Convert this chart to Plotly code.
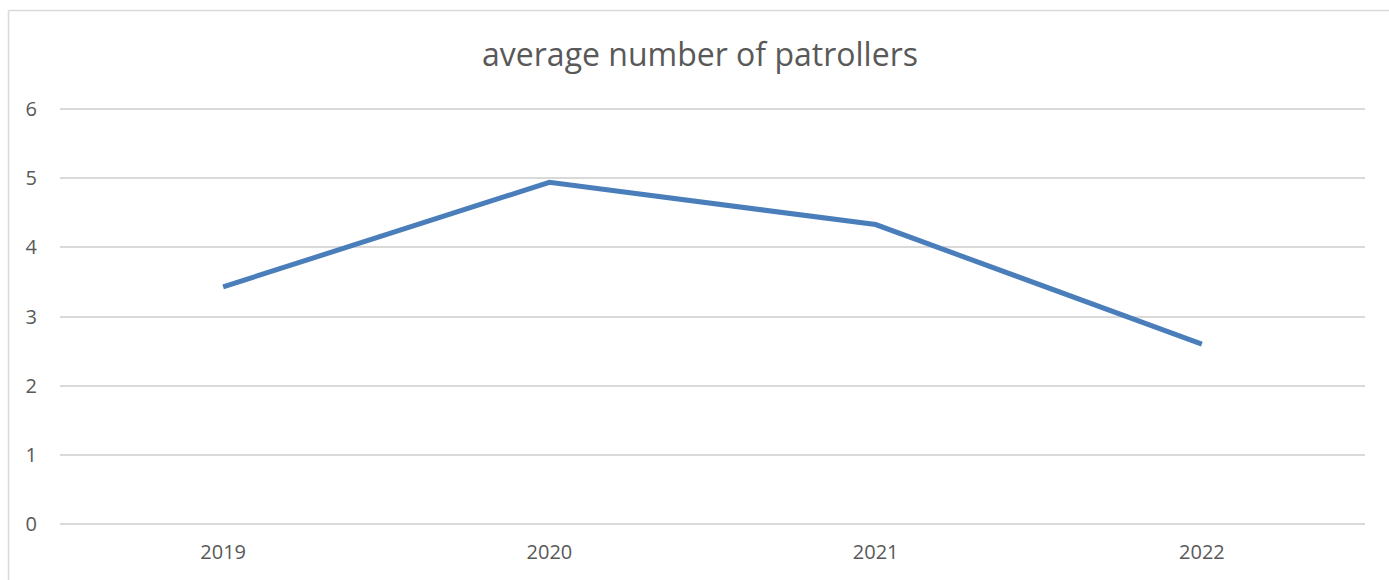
import plotly.graph_objects as go

years = ["2019", "2020", "2021", "2022"]
avg_patrollers = [3.43, 4.94, 4.33, 2.60]
y_ticks = [0, 1, 2, 3, 4, 5, 6]
y_max = 6.03

W, H = 1389, 580
L, R, B = 60, 24, 56
px_per_unit = 415 / 6
T = round(H - B - y_max * px_per_unit)
pw, ph = W - L - R, H - T - B

fig = go.Figure()
fig.add_trace(go.Scatter(
    x=years, y=avg_patrollers, mode="lines",
    line=dict(color="#4a7ebb", width=5),
    showlegend=False,
))

def px_to_paper_x(px):
    return (px - L) / pw

def px_to_paper_y(py):
    return (H - B - py) / ph

fig.update_layout(
    width=W, height=H,
    margin=dict(l=L, r=R, t=T, b=B),
    paper_bgcolor="white", plot_bgcolor="white",
    font=dict(family="Open Sans, Liberation Sans, sans-serif", color="#595959", size=20),
    title=dict(text="average number of patrollers", x=700 / W, xref="container",
               xanchor="center", y=1 - 55 / H, yref="container", yanchor="middle",
               font=dict(size=32, color="#595959")),
    xaxis=dict(type="category", range=[-0.5, 3.5], showgrid=False, showline=False,
               zeroline=False, ticks="", ticklabelstandoff=14,
               tickfont=dict(size=20, color="#595959")),
    yaxis=dict(range=[0, y_max], tickvals=y_ticks, showgrid=True, gridcolor="#d9d9d9",
               gridwidth=1.5, zeroline=True, zerolinecolor="#d9d9d9", zerolinewidth=1.5,
               showline=False, ticks="", ticklabelstandoff=22,
               tickfont=dict(size=20, color="#595959")),
    shapes=[
        dict(type="line", xref="paper", yref="paper",
             x0=px_to_paper_x(8.5), x1=px_to_paper_x(8.5),
             y0=px_to_paper_y(10.5), y1=px_to_paper_y(585),
             line=dict(color="#d9d9d9", width=1.5)),
        dict(type="line", xref="paper", yref="paper",
             x0=px_to_paper_x(8.5), x1=px_to_paper_x(1395),
             y0=px_to_paper_y(10.5), y1=px_to_paper_y(10.5),
             line=dict(color="#d9d9d9", width=1.5)),
    ],
)

fig.write_html("out.html", config={"displayModeBar": False},
               post_script="document.body.style.margin='0';")
